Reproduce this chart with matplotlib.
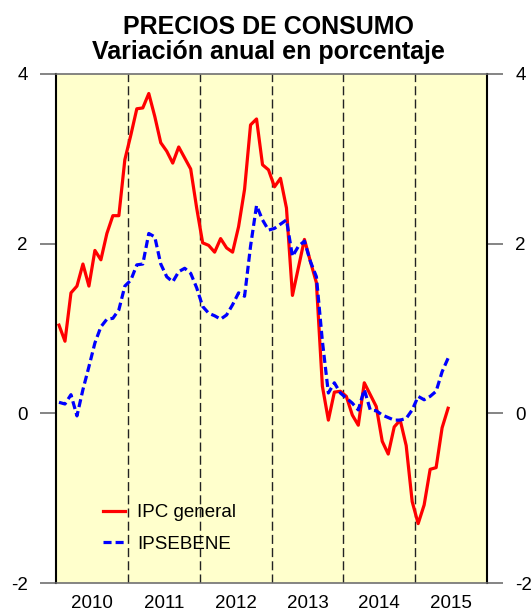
import numpy as np
import matplotlib
matplotlib.use('Agg')
import matplotlib.pyplot as plt

plt.rcParams['font.family'] = ['Liberation Sans', 'DejaVu Sans']
plt.rcParams['lines.scale_dashes'] = False

# data to plot (monthly, Jan 2010 - Jun 2015)
ipc_general = [
    1.04, 0.85, 1.42, 1.50, 1.76, 1.50, 1.92, 1.81, 2.12, 2.33, 2.33, 2.99,   # 2010
    3.28, 3.59, 3.60, 3.77, 3.50, 3.19, 3.09, 2.95, 3.14, 3.01, 2.88, 2.42,   # 2011
    2.01, 1.98, 1.90, 2.06, 1.95, 1.90, 2.20, 2.64, 3.40, 3.47, 2.93, 2.87,   # 2012
    2.67, 2.77, 2.42, 1.39, 1.72, 2.05, 1.79, 1.54, 0.32, -0.08, 0.25, 0.26,  # 2013
    0.20, -0.02, -0.14, 0.36, 0.22, 0.08, -0.33, -0.48, -0.16, -0.08, -0.38, -1.04,  # 2014
    -1.30, -1.08, -0.66, -0.64, -0.17, 0.06,                                  # 2015
]
ipsebene = [
    0.13, 0.11, 0.22, -0.03, 0.28, 0.55, 0.83, 1.02, 1.11, 1.12, 1.22, 1.50,
    1.57, 1.75, 1.76, 2.12, 2.08, 1.76, 1.61, 1.55, 1.67, 1.71, 1.65, 1.48,
    1.26, 1.18, 1.15, 1.11, 1.16, 1.28, 1.42, 1.38, 1.97, 2.45, 2.28, 2.16,
    2.18, 2.23, 2.28, 1.85, 1.97, 2.03, 1.79, 1.61, 0.85, 0.24, 0.36, 0.24,
    0.18, 0.12, 0.04, 0.28, 0.04, 0.03, -0.02, -0.05, -0.08, -0.08, -0.06, 0.04,
    0.20, 0.16, 0.20, 0.26, 0.49, 0.65,
]
years = [2010, 2011, 2012, 2013, 2014, 2015]
y_ticks = [-2, 0, 2, 4]

first_year = 2010
months = np.arange(len(ipc_general))
x = first_year + (months + 0.5) / 12.0

W, H = 531, 614
fig = plt.figure(figsize=(W / 100, H / 100), dpi=100)
ax = fig.add_axes([56 / W, 1 - 583 / H, (487 - 56) / W, (583 - 74) / H])
ax.set_facecolor('#FFFFCC')

# year separators
for yr in years[1:]:
    ax.axvline(yr, color='#222222', lw=1.0, linestyle=(0, (6.5, 3.0)), zorder=1)

ax.plot(x, ipc_general, color='#FF0000', lw=2.3, label='IPC general', zorder=3)
ax.plot(x, ipsebene, color='#0000FF', lw=2.3, linestyle=(0, (5.8, 2.9)),
        label='IPSEBENE', zorder=3)

ax.set_xlim(first_year, years[-1] + 1)
ax.set_ylim(-2, 4)

ax.set_xticks([yr + 0.5 for yr in years])
ax.set_xticklabels([str(yr) for yr in years], fontsize=13.5)
ax.tick_params(axis='x', length=0, pad=9)

ax.set_yticks(y_ticks)
ax.set_yticklabels([str(v) for v in y_ticks], fontsize=13.5)
ax.tick_params(axis='y', direction='out', length=11.5, width=1.2, color='#707070',
               pad=9, left=True, right=True, labelleft=True, labelright=True)

for side in ['left', 'right']:
    ax.spines[side].set_color('black')
    ax.spines[side].set_linewidth(1.5)
for side in ['top', 'bottom']:
    ax.spines[side].set_color('#707070')
    ax.spines[side].set_linewidth(1.2)

ax.legend(loc='upper left', bbox_to_anchor=((103 - 56) / 431, (583 - 504) / 509),
          frameon=False, fontsize=13.5, handlelength=1.17, handletextpad=0.64,
          labelspacing=0.77, borderpad=0, borderaxespad=0)

fig.text(268 / W, 1 - 34 / H, 'PRECIOS DE CONSUMO', ha='center', va='baseline',
         fontsize=18, fontweight='bold')
fig.text(268 / W, 1 - 59 / H, 'Variación anual en porcentaje', ha='center', va='baseline',
         fontsize=18, fontweight='bold')

fig.savefig('out.png', dpi=100)
